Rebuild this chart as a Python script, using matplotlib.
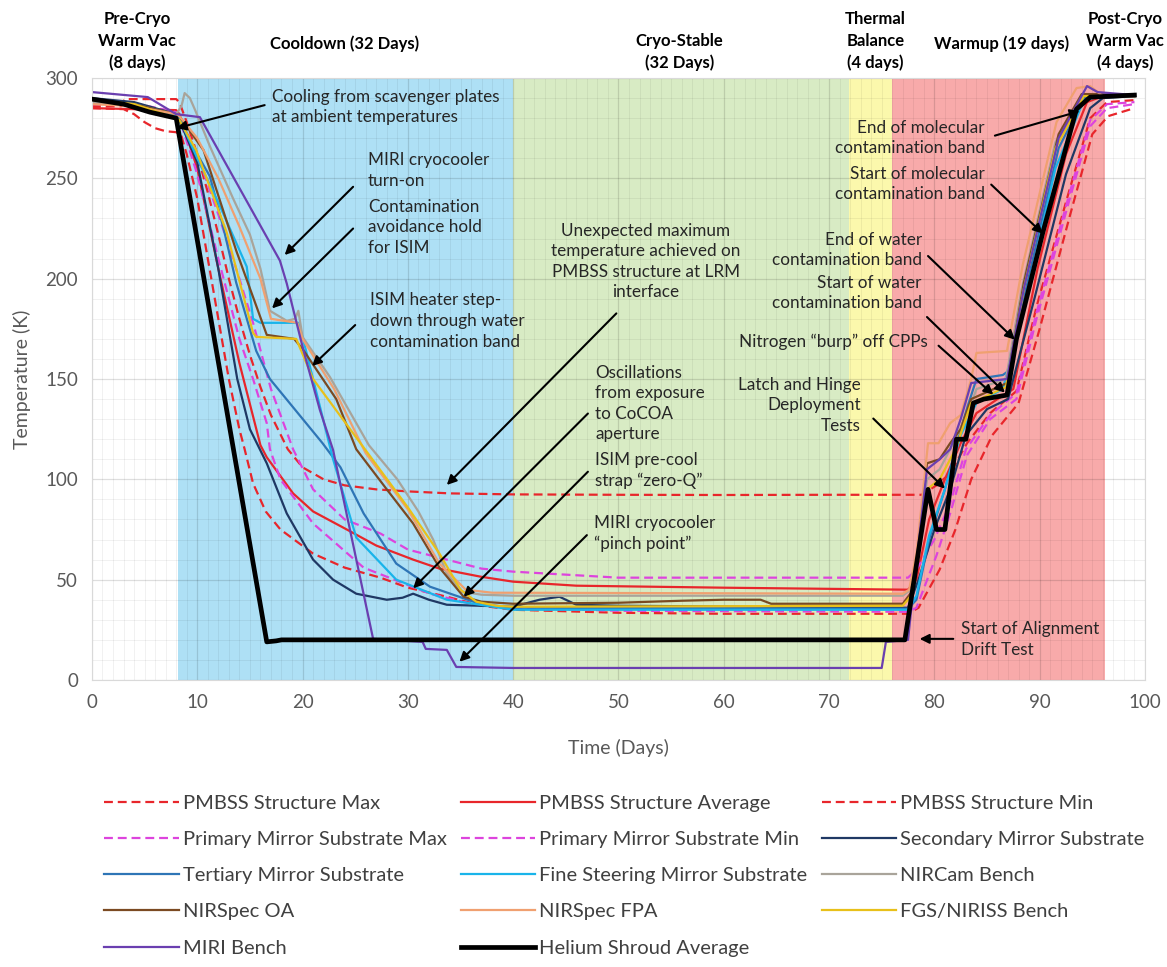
import matplotlib
matplotlib.use("Agg")
import matplotlib.pyplot as plt

plt.rcParams['font.family'] = ['Lato', 'DejaVu Sans']

# ---- data (Time in days, Temperature in K) ----
pmbss_max_x = [0, 2.8, 3.1, 8.0, 8.3, 9, 10, 11, 12, 13, 14, 15, 16, 17, 18.6, 20, 22, 24, 27, 30, 34, 40, 50, 60, 70,
               78.8, 80.2, 81.5, 83.1, 85.3, 87.8, 89.7, 92.6, 94.8, 96.4, 99]
pmbss_max_y = [286, 286, 289.5, 289.5, 288, 278, 262, 243, 222, 200, 180, 162, 146, 132, 115, 106, 100, 97, 95, 94, 93,
               92.5, 92.3, 92.2, 92.3, 92.3, 97, 103, 118, 133, 144, 186, 240, 280, 288, 289]

pmbss_avg_x = [0, 4, 8, 8.3, 10, 12, 14, 16, 16.6, 19.1, 21, 24.2, 27, 30.5, 33, 36.9, 40, 46, 60, 77.5,
               78.3, 79.5, 81, 82.5, 84, 86, 87.5, 89.8, 92.5, 94.5, 96, 99]
pmbss_avg_y = [285, 284.5, 284, 282, 255, 205, 158, 117, 111, 93, 84, 75, 67, 60, 55.5, 51.5, 49, 47, 46, 45,
               50, 80, 100, 118, 133, 140, 145, 205, 262, 288, 291, 291]

pmbss_min_x = [0, 3, 4, 5, 6, 7, 8, 8.5, 9, 10, 11, 12, 13, 14, 14.5, 15.3, 16.5, 17.9, 21, 24, 27.4, 30, 33.7, 37,
               40, 50, 60, 77.5, 78.5, 80.5, 82, 83.5, 85.5, 88, 90, 92.8, 95, 96.5, 99]
pmbss_min_y = [285, 284.5, 282, 278, 275, 273.5, 273, 271, 262, 240, 210, 180, 150, 125, 115, 98, 84, 75, 63, 56, 51,
               46, 41.5, 37, 35, 33.5, 33, 33, 36, 55, 75, 100, 122, 138, 175, 230, 272, 281, 285]

pm_max_x = [0, 4, 8, 8.3, 10, 12, 14, 15.3, 17, 19.1, 21, 24, 27.4, 30, 33.7, 37, 40, 50, 77.5,
            78.3, 80, 81.5, 83, 85.3, 87.8, 89.7, 92.6, 94.8, 96.4, 99]
pm_max_y = [288, 287.5, 283, 281, 262, 232, 200, 178, 145, 115, 95, 80, 73, 65, 60, 55.5, 54, 51, 51,
            55, 70, 88, 115, 132, 143, 183, 238, 279, 287, 288]

pm_min_x = [0, 4, 8, 8.3, 10, 12, 14, 15.3, 16.6, 16.9, 17.9, 21, 25.8, 32.1, 36, 40, 50, 77.5,
            78.3, 80.2, 81.5, 83.1, 85.3, 87.8, 89.7, 92.6, 94.8, 96.4, 99]
pm_min_y = [287, 286.5, 282, 280, 252, 210, 170, 150, 128, 115, 100, 78, 56, 43, 38, 36, 34.5, 34,
            36, 62, 83, 112, 130, 140, 180, 235, 276, 285, 287]

sec_x = [0, 4, 8, 8.3, 10, 12, 13.8, 15, 16.6, 18.5, 21, 22.9, 25.1, 28, 29.5, 30.5, 32, 33.7, 40, 42.5, 44.4, 46,
         50, 77.5, 78.5, 80, 81.5, 83, 85, 87, 89.5, 92.5, 94.8, 96, 99]
sec_y = [290, 288, 282, 279, 258, 205, 150, 125, 108, 83, 60, 50, 43, 40, 41, 43, 40, 37.5, 36.5, 40, 41.5, 37.5,
         37, 36, 50, 75, 95, 122, 135, 140, 190, 252, 285, 290, 291]

ter_x = [0, 4, 8, 8.3, 10, 11.2, 12.5, 13.7, 15.6, 16.9, 19.4, 21.9, 23.6, 25.8, 28.9, 32.1, 36.8, 40, 77.5,
         78.3, 79.5, 81, 82.5, 83.2, 84, 86.5, 87.3, 88.7, 91.8, 94.2, 96, 99]
ter_y = [289, 287, 282, 280, 262, 251, 225, 198, 164, 150, 134, 118, 106, 83, 58, 46.5, 38, 36, 35.5,
         40, 70, 95, 125, 137, 150, 152, 155, 195, 265, 290, 291, 291]

fsm_x = [0, 4, 8, 8.3, 10, 12, 14.7, 15.3, 16, 19.6, 20, 21.9, 22.9, 25.1, 28.9, 33.7, 40, 77.5,
         78.3, 79.5, 81, 82.5, 84, 86.5, 88.5, 91.5, 94.2, 96, 99]
fsm_y = [288, 287, 281, 280, 260, 238, 206, 180, 178, 178, 171, 131, 110, 71, 50, 40, 35, 35,
         42, 72, 95, 122, 138, 145, 185, 255, 289, 291, 291]

nircam_x = [0, 4, 8, 8.5, 8.8, 9.3, 9.8, 11.2, 13.4, 15, 16, 16.9, 18.5, 19.3, 19.6, 20, 22.6, 26.3, 29, 31, 32.4,
            33.7, 35.2, 37, 40, 77, 78, 79.3, 80.5, 82, 83.3, 84, 86.8, 88.3, 91.5, 94, 95.5, 99]
nircam_y = [288, 286, 282, 286, 292.5, 290, 284, 266, 240, 222, 205, 184, 179, 180, 184, 171, 151, 117, 100, 84, 70,
            53, 44, 42.5, 42, 42, 46, 100, 105, 120, 135, 145, 150, 195, 268, 292, 292, 291]

oa_x = [0, 4, 8, 8.3, 10.6, 13.7, 16.6, 19.2, 20, 23.2, 25.1, 28, 30.5, 33, 35.3, 37, 40, 50, 56, 60, 63.5, 64.5, 77,
        78, 79.3, 80.5, 81.5, 82.5, 83.5, 86.9, 88.5, 91.8, 94, 95.5, 99]
oa_y = [289, 287, 282, 281, 264, 214, 172, 170, 165, 140, 115, 95, 78, 56, 41.5, 39, 38, 38.5, 39.5, 40, 40, 38, 38,
        45, 108, 110, 118, 125, 140, 148, 198, 272, 292, 292, 291]

fpa_x = [0, 4, 8, 8.3, 10, 12, 14, 16, 17, 19.5, 20, 23, 26, 30, 33, 35.5, 38, 77,
         77.6, 78.3, 79.4, 80.4, 81.5, 82.5, 83.5, 84, 86.9, 88.4, 91.6, 93.5, 94.8, 96, 99]
fpa_y = [287, 286, 282, 281, 270, 250, 226, 200, 180, 178, 170, 145, 113, 85, 58, 45, 43.5, 43,
         45, 63, 118, 118, 128, 132, 150, 163, 164, 207, 278, 295, 296, 291, 291]

fgs_x = [0, 4, 8, 8.3, 9.9, 12.8, 15.3, 15.6, 19.4, 21, 25.5, 30, 33, 35, 36.5, 38.4, 40, 77,
         77.8, 79.3, 80.5, 82, 83.5, 86.8, 88.5, 91.5, 94.2, 96, 99]
fgs_y = [289, 287, 280, 279, 264, 223, 173, 171, 170, 150, 118, 86, 63, 45, 39, 37, 36.5, 37,
         42, 95, 100, 115, 138, 146, 195, 265, 291, 291, 291]

miri_x = [0, 5.3, 8, 9.5, 10.25, 17.85, 18.5, 20.1, 21.65, 22.9, 26.7, 31.4, 31.7, 33.7, 34.6, 40, 75.0, 75.4, 77.5,
          78.0, 79.3, 80.5, 81.5, 82.5, 83.5, 86.9, 88.5, 91.8, 94.5, 95.5, 99]
miri_y = [293, 290.5, 282, 281, 280.5, 209, 197.6, 164, 134.5, 114.6, 20.5, 19, 15.5, 15, 6.5, 6, 6, 19, 20,
          45, 105, 110, 115, 130, 148, 150, 195, 270, 296, 293, 291.5]

he_x = [0, 3, 5.5, 8, 16.6, 17.5, 18, 77.2, 79.4, 80.2, 81.0, 82.1, 83.0, 83.7, 84.7, 86.9, 87.8, 90.3, 93.5, 94.8, 99]
he_y = [289.5, 287, 283, 280, 19, 19.5, 20, 20, 95, 75, 75, 120, 120, 138, 140, 142, 170, 223, 284.5, 290.5, 291.5]

# test phases
phase_bounds = [(8.2, 40.0), (40.0, 71.9), (71.9, 76.0), (76.0, 96.2)]
phase_colors = ['#aee0f5', '#d8ebc4', '#fbf8ac', '#f8aaaa']
phase_labels = ['Pre-Cryo\nWarm Vac\n(8 days)', 'Cooldown (32 Days)', 'Cryo-Stable\n(32 Days)',
                'Thermal\nBalance\n(4 days)', 'Warmup (19 days)', 'Post-Cryo\nWarm Vac\n(4 days)']
phase_label_x = [4.3, 24.0, 55.8, 74.4, 86.4, 98.1]
phase_label_y = [318.5, 317, 313, 318.5, 317, 318.5]

# ---- figure ----
fig = plt.figure(figsize=(11.67, 9.67), dpi=100)
ax = fig.add_axes([0.0788, 0.2968, 0.9023, 0.6225])

for (a, b), c in zip(phase_bounds, phase_colors):
    ax.axvspan(a, b, color=c, zorder=0.2, lw=0)

dash = (0, (4, 2.2))
red = '#e8262b'
mag = '#dd44dd'
series = [
    ('PMBSS Structure Max', pmbss_max_x, pmbss_max_y, red, dash, 1.6),
    ('PMBSS Structure Average', pmbss_avg_x, pmbss_avg_y, red, '-', 1.6),
    ('PMBSS Structure Min', pmbss_min_x, pmbss_min_y, red, dash, 1.6),
    ('Primary Mirror Substrate Max', pm_max_x, pm_max_y, mag, dash, 1.6),
    ('Primary Mirror Substrate Min', pm_min_x, pm_min_y, mag, dash, 1.6),
    ('Secondary Mirror Substrate', sec_x, sec_y, '#1f3864', '-', 1.6),
    ('Tertiary Mirror Substrate', ter_x, ter_y, '#2e75b6', '-', 1.6),
    ('Fine Steering Mirror Substrate', fsm_x, fsm_y, '#19b4ea', '-', 1.6),
    ('NIRCam Bench', nircam_x, nircam_y, '#a9a49a', '-', 1.6),
    ('NIRSpec OA', oa_x, oa_y, '#7b4a22', '-', 1.6),
    ('NIRSpec FPA', fpa_x, fpa_y, '#f0a070', '-', 1.6),
    ('FGS/NIRISS Bench', fgs_x, fgs_y, '#e8c01a', '-', 1.6),
    ('MIRI Bench', miri_x, miri_y, '#6a3fb0', '-', 1.6),
    ('Helium Shroud Average', he_x, he_y, 'black', '-', 3.4),
]
handles = {}
for name, x, y, c, ls, lw in series:
    h, = ax.plot(x, y, color=c, ls=ls, lw=lw, label=name, zorder=3 if name.startswith('Helium') else 2.5)
    handles[name] = h

ax.set_xlim(0, 100)
ax.set_ylim(0, 300)
ax.set_xticks(range(0, 101, 10))
ax.set_yticks(range(0, 301, 50))
ax.set_xticks(range(0, 101, 1), minor=True)
ax.set_yticks(range(0, 301, 10), minor=True)
ax.grid(which='major', color='black', alpha=0.13, lw=0.9)
ax.grid(which='minor', color='black', alpha=0.055, lw=0.7)
ax.tick_params(which='both', length=0, labelsize=13.5, labelcolor='#595959', pad=10)
for s in ax.spines.values():
    s.set_color('#d9d9d9')
ax.set_xlabel('Time (Days)', fontsize=14, color='#595959', labelpad=20)
ax.set_ylabel('Temperature (K)', fontsize=14, color='#595959', labelpad=10)

for t, x, y in zip(phase_labels, phase_label_x, phase_label_y):
    ax.text(x, y, t, ha='center', va='center', fontsize=12, fontweight='bold', linespacing=1.42,
            clip_on=False, color='black')

# annotations: (text, text pos, ha, arrow tail, arrow head)
notes = [
    ('Cooling from scavenger plates\nat ambient temperatures', (17.1, 285.5), 'left', (16.4, 286.5), (8.05, 275)),
    ('MIRI cryocooler\nturn-on', (26.2, 254), 'left', (24.8, 245.8), (18.3, 211.8)),
    ('Contamination\navoidance hold\nfor ISIM', (26.2, 225.7), 'left', (24.8, 225), (17.1, 185.2)),
    ('ISIM heater step-\ndown through water\ncontamination band', (26.4, 178.9), 'left', (25.0, 176.9), (20.9, 156.5)),
    ('Unexpected maximum\ntemperature achieved on\nPMBSS structure at LRM\ninterface', (52.6, 208.5), 'center',
     (49.8, 182.7), (33.7, 97.2)),
    ('Oscillations\nfrom exposure\nto CoCOA\naperture', (47.8, 137.8), 'left', (47.1, 132.8), (30.5, 45.7)),
    ('ISIM pre-cool\nstrap \u201czero-Q\u201d', (47.8, 104.6), 'left', (47.1, 103.8), (35.3, 41.5)),
    ('MIRI cryocooler\n\u201cpinch point\u201d', (47.7, 72.9), 'left', (47.0, 72.2), (34.9, 9.1)),
    ('End of molecular\ncontamination band', (84.8, 270.2), 'right', (85.75, 271.3), (93.8, 283.5)),
    ('Start of molecular\ncontamination band', (84.8, 247.3), 'right', (85.4, 246.9), (90.3, 222.5)),
    ('End of water\ncontamination band', (78.8, 214.3), 'right', (79.4, 211.3), (87.65, 169.6)),
    ('Start of water\ncontamination band', (78.8, 192.8), 'right', (79.3, 180.9), (86.7, 143.2)),
    ('Nitrogen \u201cburp\u201d off CPPs', (79.4, 168.6), 'right', (80.4, 166.6), (85.6, 142.2)),
    ('Latch and Hinge\nDeployment\nTests', (73.0, 137.0), 'right', (74.2, 130.3), (81.0, 95.4)),
    ('Start of Alignment\nDrift Test', (82.5, 20.1), 'left', (81.8, 20.5), (78.6, 20.5)),
]
for txt, pos, ha, tail, head in notes:
    ax.text(pos[0], pos[1], txt, ha=ha, va='center', multialignment=ha, fontsize=12.3,
            linespacing=1.35, color='#262626', zorder=5)
    ax.annotate('', xy=head, xytext=tail,
                arrowprops=dict(arrowstyle='-|>', color='black', lw=1.5, mutation_scale=14,
                                shrinkA=0, shrinkB=0), zorder=6)

# legend laid out row by row in three columns
col_order = ['PMBSS Structure Max', 'Primary Mirror Substrate Max', 'Tertiary Mirror Substrate', 'NIRSpec OA',
             'MIRI Bench',
             'PMBSS Structure Average', 'Primary Mirror Substrate Min', 'Fine Steering Mirror Substrate',
             'NIRSpec FPA', 'Helium Shroud Average',
             'PMBSS Structure Min', 'Secondary Mirror Substrate', 'NIRCam Bench', 'FGS/NIRISS Bench']
leg = fig.legend([handles[n] for n in col_order], col_order, ncol=3, loc='upper center',
                 bbox_to_anchor=(0.535, 0.197), frameon=False, fontsize=14.5, handlelength=3.7,
                 handletextpad=0.2, columnspacing=0.7, labelspacing=0.95)
for t in leg.get_texts():
    t.set_color('#404040')

fig.savefig('out.png', dpi=100)
